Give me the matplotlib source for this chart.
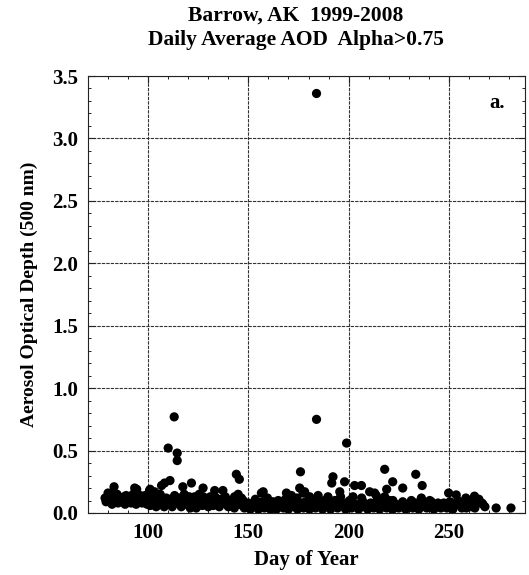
import matplotlib
matplotlib.use("Agg")
import matplotlib.pyplot as plt
from matplotlib.ticker import MultipleLocator

# ---- data (day of year, daily mean AOD) ----
day_upper = [80, 81.6, 83, 84, 86.6, 88, 91.6, 93.3, 94.3, 96, 98, 100.7, 101, 103.2,
             105.7, 106.7, 108.2, 110.9, 110, 113, 114.5, 114.5, 113.2, 117.3, 121.6,
             119.8, 123.2, 127.4, 126.5, 133.2, 137.3, 134.8, 139.8, 144, 145.5, 143.1,
             144.9, 147.4, 156.5, 157.4, 154.1, 160.8, 162.3, 164.9, 169, 171.5, 176,
             175.6, 177.3, 178.1, 174.2, 180.6, 184, 184, 184.8, 183.1, 189.7, 192.2,
             191.6, 198, 199, 195.6, 193.1, 203, 206.4, 210.5, 213.8, 202.2, 207.2,
             198.9, 213, 218, 219, 222, 227, 233.5, 236.7, 218, 222.1, 216.3, 226.3,
             231.3, 236.3, 241.3, 244.6, 249.9, 253.7, 262.8, 260.3, 266.5, 251.2,
             258.7, 263.6, 273.6, 281]
aod_upper = [0.16, 0.16, 0.21, 0.12, 0.10, 0.13, 0.13, 0.20, 0.19, 0.14, 0.12, 0.18, 0.19, 0.17,
             0.13, 0.22, 0.24, 0.26, 0.52, 0.77, 0.48, 0.42, 0.14, 0.21, 0.24,
             0.10, 0.13, 0.20, 0.12, 0.18, 0.18, 0.09, 0.10, 0.31, 0.27, 0.13,
             0.15, 0.10, 0.16, 0.17, 0.09, 0.08, 0.09, 0.10, 0.16, 0.14, 0.33,
             0.20, 0.16, 0.17, 0.12, 0.13, 0.75, 3.36, 0.14, 0.08, 0.13, 0.29,
             0.24, 0.25, 0.56, 0.17, 0.10, 0.22, 0.22, 0.17, 0.14, 0.13, 0.09,
             0.08, 0.16, 0.35, 0.19, 0.25, 0.20, 0.31, 0.22, 0.13, 0.10, 0.08, 0.06,
             0.10, 0.12, 0.09, 0.08, 0.16, 0.145, 0.135, 0.10, 0.08, 0.065,
             0.04, 0.09, 0.04, 0.04]

day_band = [79, 80.5, 82, 83.5, 85, 86.5, 88.5, 90, 91.5, 92.5, 94, 95.5, 97, 98.5, 99.5,
            101, 102.5, 104, 105.5, 107, 108, 109.5, 111, 112, 114, 115.5, 116.5, 118, 119,
            121, 122.5, 124, 125.5, 127, 128.5, 130, 131, 132.5, 134, 135.5, 137, 138.5,
            140, 141.5, 143, 145, 146.5, 148, 149.5,
            151, 152, 153.5, 155, 156, 158, 159.5, 161, 162.5, 164, 166, 167.5, 168.5, 170,
            171, 173, 174.5, 176, 177.5, 179, 180.5, 182, 183.5, 185.5, 187, 188, 189.5,
            191, 192.5, 194.5, 196, 197, 198.5, 200.5, 201.5, 203.5, 205, 206.5, 208,
            209.5, 211, 212.5, 214.5, 215.5, 217, 219, 220.5, 222, 223.5, 225, 227, 228.5,
            230, 232, 233.5, 235, 237.5, 239, 240.5, 242.5, 244, 246, 247.5, 249, 252,
            254.5, 256.5, 258.5, 261, 263, 265, 268]
aod_band = [0.09, 0.13, 0.07, 0.10, 0.08, 0.12, 0.07, 0.10, 0.08, 0.15, 0.07, 0.11, 0.08, 0.14, 0.07,
            0.06, 0.10, 0.05, 0.09, 0.12, 0.05, 0.08, 0.11, 0.05, 0.08, 0.12, 0.05, 0.15, 0.07,
            0.04, 0.09, 0.04, 0.15, 0.06, 0.10, 0.05, 0.13, 0.06, 0.12, 0.05, 0.08, 0.13,
            0.05, 0.08, 0.04, 0.07, 0.12, 0.04, 0.07,
            0.03, 0.06, 0.11, 0.03, 0.07, 0.04, 0.12, 0.03, 0.06, 0.03, 0.07, 0.04, 0.11, 0.03,
            0.08, 0.05, 0.03, 0.08, 0.04, 0.07, 0.03, 0.10, 0.04, 0.07, 0.03, 0.10, 0.05,
            0.03, 0.07, 0.04, 0.13, 0.06, 0.03, 0.10, 0.04, 0.07, 0.03, 0.12, 0.05,
            0.03, 0.08, 0.04, 0.11, 0.03, 0.06, 0.04, 0.10, 0.03, 0.07, 0.04, 0.09, 0.03,
            0.06, 0.04, 0.08, 0.03, 0.06, 0.04, 0.10, 0.03, 0.06, 0.04, 0.08, 0.04, 0.03,
            0.10, 0.04, 0.12, 0.05, 0.04, 0.11, 0.05]

day_fill = [78.5, 81, 84.5, 87.5, 89, 92, 95, 96.5, 99, 102, 104.5, 106, 109, 111.5, 113.5,
            116, 118.5, 120.5, 123, 125, 127.5, 129.5, 132, 134.5, 136.5, 139, 142, 144.5,
            147, 150, 152.5, 154.5, 157, 160, 163, 165, 167, 169.5, 172, 175, 178.5, 181,
            184, 186.5, 190, 193.5, 195, 198, 201, 204, 207, 210, 213, 216, 218.5, 221,
            224, 226, 229.5, 231, 234, 236.5, 238.5, 241.5, 245, 248, 250.5, 253, 255.5,
            257.5, 259.5, 262, 264, 267]
aod_fill = [0.12, 0.09, 0.15, 0.10, 0.14, 0.11, 0.13, 0.09, 0.11, 0.13, 0.08, 0.15, 0.12, 0.09, 0.11,
            0.09, 0.11, 0.13, 0.07, 0.10, 0.13, 0.08, 0.10, 0.08, 0.11, 0.07, 0.10, 0.09,
            0.06, 0.08, 0.05, 0.07, 0.09, 0.05, 0.08, 0.06, 0.09, 0.06, 0.11, 0.06, 0.09, 0.06,
            0.10, 0.06, 0.08, 0.06, 0.09, 0.05, 0.07, 0.05, 0.09, 0.06, 0.07, 0.05, 0.08, 0.06,
            0.05, 0.07, 0.05, 0.08, 0.06, 0.05, 0.08, 0.06, 0.05, 0.06, 0.09, 0.07, 0.06,
            0.08, 0.06, 0.07, 0.08, 0.07]

x_ticks = [100, 150, 200, 250]
y_ticks = [0.0, 0.5, 1.0, 1.5, 2.0, 2.5, 3.0, 3.5]

title_lines = ["Barrow, AK  1999-2008", "Daily Average AOD  Alpha>0.75"]

serif = ["Liberation Serif", "DejaVu Serif"]
plt.rcParams["font.family"] = serif

fig = plt.figure(figsize=(5.29, 5.75), dpi=100)
ax = fig.add_axes([88 / 529, 1 - 513 / 575, 437 / 529, 437 / 575])

days = day_upper + day_band + day_fill
aods = aod_upper + aod_band + aod_fill
ax.scatter(days, aods, s=44, c="black", edgecolors="none", zorder=3)

ax.set_xlim(70, 288)
ax.set_ylim(0, 3.5)
ax.set_xticks(x_ticks)
ax.set_yticks(y_ticks)
ax.set_yticklabels([f"{v:.1f}" for v in y_ticks])
ax.xaxis.set_minor_locator(MultipleLocator(10))
ax.yaxis.set_minor_locator(MultipleLocator(0.1))
ax.tick_params(which="both", direction="in", top=True, right=True, color="#222222")
ax.tick_params(which="major", length=5, width=0.8, labelsize=15, pad=7)
ax.tick_params(which="minor", length=2.5, width=0.7)
for lab in ax.get_xticklabels() + ax.get_yticklabels():
    lab.set_fontweight("bold")

ax.grid(True, which="major", color="#333333", linewidth=0.8, linestyle=(0, (3, 1)))
ax.set_axisbelow(True)
for sp in ax.spines.values():
    sp.set_linewidth(0.8)
    sp.set_color("#222222")

ax.set_xlabel("Day of Year", fontsize=15, fontweight="bold", labelpad=5)
ax.set_ylabel("Aerosol Optical Depth (500 nm)", fontsize=14, fontweight="bold", labelpad=10)
ax.text(0.936, 0.938, "a.", transform=ax.transAxes, fontsize=15, fontweight="bold",
        ha="center", va="center")

fig.text(296 / 529, 1 - 16 / 575, title_lines[0], fontsize=15.5, fontweight="bold",
         ha="center", va="center")
fig.text(296 / 529, 1 - 40 / 575, title_lines[1], fontsize=15.5, fontweight="bold",
         ha="center", va="center")

fig.savefig("out.png", dpi=100)
